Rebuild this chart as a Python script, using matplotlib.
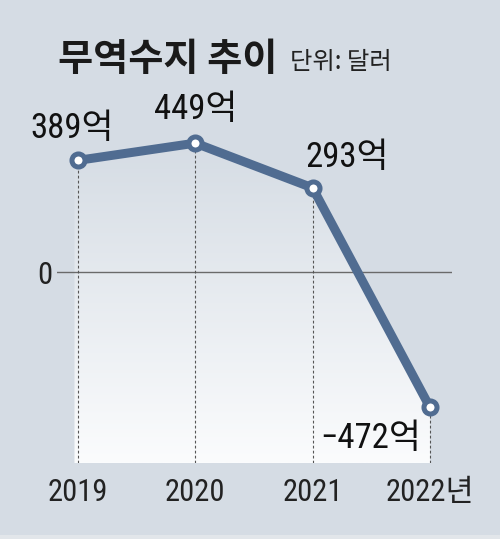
import matplotlib
matplotlib.use('Agg')
import matplotlib.pyplot as plt
import numpy as np
from matplotlib.colors import LinearSegmentedColormap
from matplotlib.patches import Polygon, Rectangle

# ---- data ----
years = ['2019', '2020', '2021', '2022년']
values = [389, 449, 293, -472]
value_labels = ['389억', '449억', '293억', '−472억']
title = '무역수지 추이'
unit = '단위: 달러'

# ---- style ----
BG = '#d5dce4'
LINE = '#506c91'
FAM = ['Roboto Condensed', 'Noto Sans CJK KR', 'DejaVu Sans']
plt.rcParams['font.family'] = FAM

W, H = 500, 539
fig = plt.figure(figsize=(W / 100, H / 100), dpi=100, facecolor=BG)
fig.patches.append(Rectangle((0, 0), 1, 4 / H, transform=fig.transFigure,
                             facecolor='#e2e6ea', edgecolor='none'))

L, R, B, T = 57, 452, 463, 90
ax = fig.add_axes([L / W, 1 - B / H, (R - L) / W, (B - T) / H])
ax.patch.set_visible(False)
px_x = (430 - 78) / 3
px_v = 0.287
x = np.arange(len(values))
ax.set_xlim(-(78 - L) / px_x, 3 + (R - 430) / px_x)
ymin = -(B - 272) / px_v
ax.set_ylim(ymin, (272 - T) / px_v)

# gradient fill under line
top = max(values)
cmap = LinearSegmentedColormap.from_list('g', [BG, '#fbfcfd'])
grad = np.linspace(0, 1, 256).reshape(-1, 1)
im = ax.imshow(grad, extent=[x[0] - 0.03, x[-1], ymin, top], aspect='auto',
               cmap=cmap, origin='upper', zorder=1)
poly = Polygon(list(zip([x[0] - 0.03] + list(x), [values[0]] + values))
               + [(x[-1], ymin), (x[0] - 0.03, ymin)],
               closed=True, facecolor='none', edgecolor='none', transform=ax.transData)
ax.add_patch(poly)
im.set_clip_path(poly)

# zero line
ax.axhline(0, color='#6a6a6a', lw=1.0, zorder=2)
# dashed verticals
ax.vlines(x, ymin, values, colors='#555555', lw=0.8, linestyles=(0, (2.5, 2)), zorder=2)

# line and markers
ax.plot(x, values, color=LINE, lw=6.5, solid_capstyle='round', zorder=3)
ax.plot(x, values, ls='none', marker='o', ms=9.4, mew=3.6, mec=LINE, mfc='white', zorder=4)

# value labels
offsets = [(-6, 22), (0, 24), (34, 21), (-59, -41)]
for xi, v, lab, (dx, dy) in zip(x, values, value_labels, offsets):
    ax.annotate(lab, (xi, v), xytext=(dx, dy), textcoords='offset pixels',
                ha='center', va='baseline', fontsize=25, color='#111111', zorder=5)

# ticks
ax.set_xticks(x, years)
ax.set_yticks([0], ['0'])
ax.tick_params(axis='x', length=0, pad=10.5, labelsize=22, labelcolor='#222222')
ax.tick_params(axis='y', length=0, pad=3.5, labelsize=22, labelcolor='#222222')
for s in ax.spines.values():
    s.set_visible(False)

# title
fig.text(58 / W, 1 - 71 / H, title, fontsize=27.5, fontweight='bold', color='#1a1a1a',
         va='baseline', ha='left', family=['Noto Sans CJK KR', 'DejaVu Sans'])
fig.text(290 / W, 1 - 69 / H, unit, fontsize=17.5, color='#222222',
         va='baseline', ha='left', family=['Noto Sans CJK KR', 'DejaVu Sans'])

fig.savefig('out.png', dpi=100, facecolor=BG)
